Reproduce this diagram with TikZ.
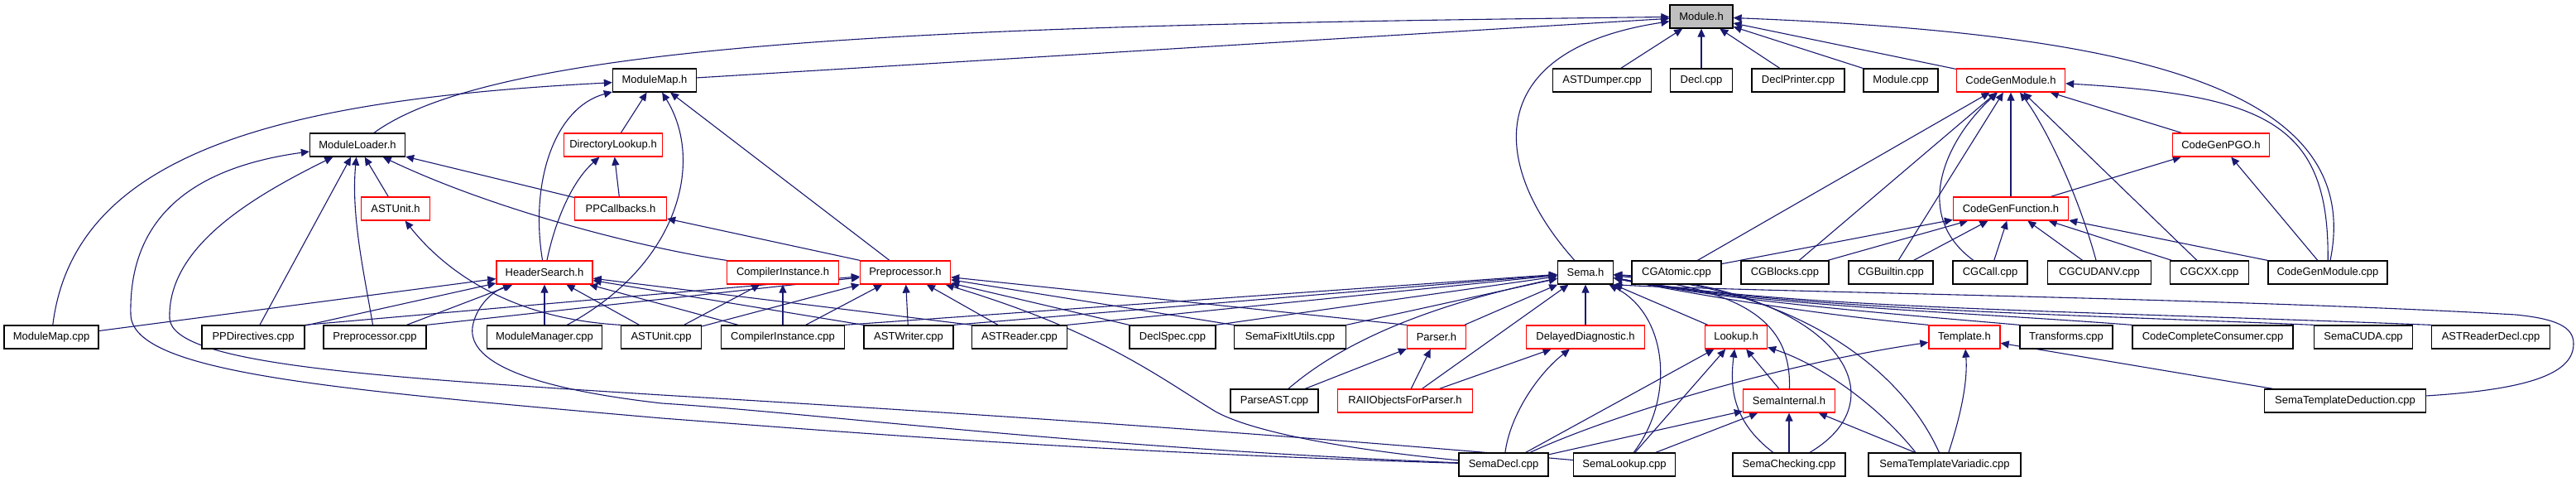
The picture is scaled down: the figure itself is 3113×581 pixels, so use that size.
\documentclass[tikz,border=0pt]{standalone}
\usepackage{fontspec}
\setmainfont{Liberation Sans}
\usetikzlibrary{arrows.meta}
\definecolor{mb}{HTML}{191970}
\definecolor{gfill}{HTML}{BFBFBF}
\definecolor{rd}{HTML}{FF0000}
\pgfdeclarelayer{edges}
\pgfsetlayers{edges,main}
\begin{document}
\begin{tikzpicture}[x=1pt,y=-1pt,
  box/.style={draw=black, line width=1.3pt, fill=white, minimum height=28pt, inner sep=0pt, font=\fontsize{13}{15}\selectfont},
  rbox/.style={box, draw=rd},
  e/.style={draw=mb, line width=1.1pt, -{Triangle[length=10pt,width=9pt]}}]
\useasboundingbox (0,0) rectangle (3113,581);
% row 1
\node[box,fill=gfill,minimum width=76pt] (M) at (2056,20) {Module.h};
% row 2
\node[box,minimum width=101pt] (MMh) at (791,97) {ModuleMap.h};
\node[box,minimum width=119pt] (ASTD) at (1936,97) {ASTDumper.cpp};
\node[box,minimum width=75pt] (Dcpp) at (2056,97) {Decl.cpp};
\node[box,minimum width=112pt] (DP) at (2173,97) {DeclPrinter.cpp};
\node[box,minimum width=90pt] (Mcpp) at (2297,97) {Module.cpp};
\node[rbox,minimum width=131pt] (CGMh) at (2430,97) {CodeGenModule.h};
% row 3
\node[box,minimum width=115pt] (MLh) at (432,175) {ModuleLoader.h};
\node[rbox,minimum width=119pt] (DLh) at (741,175) {DirectoryLookup.h};
\node[rbox,minimum width=117pt] (PGO) at (2684,175) {CodeGenPGO.h};
% row 4
\node[rbox,minimum width=83pt] (AUh) at (478,252) {ASTUnit.h};
\node[rbox,minimum width=111pt] (PPC) at (750,252) {PPCallbacks.h};
\node[rbox,minimum width=139pt] (CGF) at (2430,252) {CodeGenFunction.h};
% row 5
\node[rbox,minimum width=116pt] (HS) at (658,329) {HeaderSearch.h};
\node[rbox,minimum width=135pt] (CIh) at (946,329) {CompilerInstance.h};
\node[rbox,minimum width=109pt] (PPh) at (1094,329) {Preprocessor.h};
\node[box,minimum width=67pt] (Sema) at (1916,329) {Sema.h};
\node[box,minimum width=108pt] (CGAt) at (2026,329) {CGAtomic.cpp};
\node[box,minimum width=106pt] (CGBl) at (2157,329) {CGBlocks.cpp};
\node[box,minimum width=102pt] (CGBu) at (2285,329) {CGBuiltin.cpp};
\node[box,minimum width=90pt] (CGCa) at (2405,329) {CGCall.cpp};
\node[box,minimum width=125pt] (CGCU) at (2537,329) {CGCUDANV.cpp};
\node[box,minimum width=95pt] (CGCX) at (2670,329) {CGCXX.cpp};
\node[box,minimum width=144pt] (CGMcpp) at (2813,329) {CodeGenModule.cpp};
% row 6
\node[box,minimum width=114pt] (MMcpp) at (62,407) {ModuleMap.cpp};
\node[box,minimum width=124pt] (PPD) at (306,407) {PPDirectives.cpp};
\node[box,minimum width=124pt] (PPcpp) at (453,407) {Preprocessor.cpp};
\node[box,minimum width=139pt] (MMgr) at (658,407) {ModuleManager.cpp};
\node[box,minimum width=97pt] (AUcpp) at (799,407) {ASTUnit.cpp};
\node[box,minimum width=149pt] (CIcpp) at (946,407) {CompilerInstance.cpp};
\node[box,minimum width=108pt] (ASTW) at (1098,407) {ASTWriter.cpp};
\node[box,minimum width=115pt] (ASTR) at (1232,407) {ASTReader.cpp};
\node[box,minimum width=104pt] (DS) at (1417,407) {DeclSpec.cpp};
\node[box,minimum width=135pt] (SFI) at (1559,407) {SemaFixItUtils.cpp};
\node[rbox,minimum width=71pt] (Ph) at (1736,407) {Parser.h};
\node[rbox,minimum width=143pt] (DD) at (1916,407) {DelayedDiagnostic.h};
\node[rbox,minimum width=75pt] (Lh) at (2098,407) {Lookup.h};
\node[rbox,minimum width=86pt] (Th) at (2374,407) {Template.h};
\node[box,minimum width=112pt] (Tr) at (2497,407) {Transforms.cpp};
\node[box,minimum width=194pt] (CCC) at (2674,407) {CodeCompleteConsumer.cpp};
\node[box,minimum width=119pt] (SCU) at (2856,407) {SemaCUDA.cpp};
\node[box,minimum width=143pt] (ARD) at (3010,407) {ASTReaderDecl.cpp};
% row 7
\node[box,minimum width=106pt] (PAST) at (1540,484) {ParseAST.cpp};
\node[rbox,minimum width=163pt] (RAII) at (1698,484) {RAIIObjectsForParser.h};
\node[rbox,minimum width=111pt] (SI) at (2162,484) {SemaInternal.h};
\node[box,minimum width=195pt] (STD) at (2834,484) {SemaTemplateDeduction.cpp};
% row 8
\node[box,minimum width=108pt] (SD) at (1817,561) {SemaDecl.cpp};
\node[box,minimum width=123pt] (SL) at (1963,561) {SemaLookup.cpp};
\node[box,minimum width=136pt] (SC) at (2162,561) {SemaChecking.cpp};
\node[box,minimum width=184pt] (STV) at (2350,561) {SemaTemplateVariadic.cpp};

\begin{pgfonlayer}{edges}
\fill[white] (0,0) rectangle (3113,581);
% ---- edges into Module.h
\draw[e] (MMh) -- (M);
\draw[e] (MLh) .. controls (610,45) and (1200,30) .. (M);
\draw[e] (Sema) .. controls (1800,200) and (1790,60) .. (M);
\draw[e] (ASTD) -- (M);
\draw[e] (Dcpp) -- (M);
\draw[e] (DP) -- (M);
\draw[e] (Mcpp) -- (M);
\draw[e] (CGMh) -- (M);
\draw[e] (CGMcpp) .. controls (2860,100) and (2560,40) .. (M);
% ---- CodeGen
\draw[e] (CGMcpp) .. controls (2815,150) and (2740,115) .. (CGMh);
\draw[e] (CGF) -- (CGMh);
\draw[e] (PGO) -- (CGMh);
\draw[e] (CGAt) -- (CGMh);
\draw[e] (CGBl) -- (CGMh);
\draw[e] (CGBu) -- (CGMh);
\draw[e] (CGCa) .. controls (2310,260) and (2350,170) .. (CGMh);
\draw[e] (CGCU) .. controls (2510,230) and (2470,150) .. (CGMh);
\draw[e] (CGCX) -- (CGMh);
\draw[e] (CGAt) -- (CGF);
\draw[e] (CGBl) -- (CGF);
\draw[e] (CGBu) -- (CGF);
\draw[e] (CGCa) -- (CGF);
\draw[e] (CGCU) -- (CGF);
\draw[e] (CGCX) -- (CGF);
\draw[e] (CGMcpp) -- (CGF);
\draw[e] (CGF) -- (PGO);
\draw[e] (CGMcpp) -- (PGO);
% ---- ModuleMap.h
\draw[e] (MMcpp) .. controls (90,180) and (350,120) .. (MMh);
\draw[e] (HS) .. controls (640,220) and (670,130) .. (MMh);
\draw[e] (DLh) -- (MMh);
\draw[e] (MMgr) .. controls (820,320) and (852,195) .. (MMh);
\draw[e] (PPh) -- (MMh);
% ---- ModuleLoader.h
\draw[e] (SD) .. controls (1300,545) and (1000,520) .. (800,505) .. controls (400,470) and (160,450) .. (158,380) .. controls (155,250) and (250,200) .. (MLh);
\draw[e] (SL) .. controls (1500,520) and (1100,495) .. (800,477) .. controls (450,455) and (210,440) .. (205,385) .. controls (202,300) and (300,240) .. (MLh);
\draw[e] (PPD) -- (MLh);
\draw[e] (PPcpp) .. controls (440,330) and (424,260) .. (MLh);
\draw[e] (AUh) -- (MLh);
\draw[e] (CIh.north west) .. controls (780,300) and (600,255) .. (MLh);
\draw[e] (PPC) -- (MLh);
% ---- DirectoryLookup.h, ASTUnit.h, PPCallbacks.h
\draw[e] (HS) .. controls (670,270) and (690,220) .. (DLh);
\draw[e] (PPC) -- (DLh);
\draw[e] (AUcpp.north west) .. controls (620,385) and (540,330) .. (AUh);
\draw[e] (PPh.north west) -- (PPC);
% ---- HeaderSearch.h
\draw[e] (MMcpp) -- (HS);
\draw[e] (PPD) -- (HS);
\draw[e] (PPcpp) -- (HS);
\draw[e] (MMgr) -- (HS);
\draw[e] (AUcpp) -- (HS);
\draw[e] (CIcpp) -- (HS);
\draw[e] (ASTW.north west) -- (HS);
\draw[e] (ASTR.north west) -- (HS);
\draw[e] (SD) .. controls (1300,540) and (1000,500) .. (800,487) .. controls (650,470) and (565,440) .. (571,395) .. controls (575,370) and (595,352) .. (HS);
% ---- CompilerInstance.h
\draw[e] (AUcpp) -- (CIh);
\draw[e] (CIcpp) -- (CIh);
% ---- Preprocessor.h
\draw[e] (PPD.north east) -- (PPh);
\draw[e] (PPcpp.north east) -- (PPh);
\draw[e] (AUcpp) -- (PPh);
\draw[e] (CIcpp) -- (PPh);
\draw[e] (ASTW) -- (PPh);
\draw[e] (ASTR) -- (PPh);
\draw[e] (DS.north west) -- (PPh);
\draw[e] (SFI.north west) -- (PPh);
\draw[e] (Ph.north west) -- (PPh);
\draw[e] (SD) .. controls (1650,545) and (1520,525) .. (1469,497) .. controls (1400,455) and (1330,400) .. (PPh);
% ---- Sema.h
\draw[e] (CIcpp.north east) -- (Sema);
\draw[e] (ASTW.north east) -- (Sema);
\draw[e] (ASTR.north east) -- (Sema);
\draw[e] (DS.north east) -- (Sema);
\draw[e] (SFI.north east) -- (Sema);
\draw[e] (Ph) -- (Sema);
\draw[e] (PAST) .. controls (1620,415) and (1720,370) .. (Sema);
\draw[e] (RAII) -- (Sema);
\draw[e] (DD) -- (Sema);
\draw[e] (SL) .. controls (2025,480) and (2015,380) .. (Sema);
\draw[e] (Lh) -- (Sema);
\draw[e] (SI) .. controls (2165,390) and (2110,350) .. (Sema);
\draw[e] (SC) .. controls (2300,480) and (2220,350) .. (Sema);
\draw[e] (STV) .. controls (2300,450) and (2180,350) .. (Sema);
\draw[e] (Th.north west) .. controls (2200,380) and (2070,360) .. (Sema);
\draw[e] (Tr.north west) .. controls (2300,380) and (2100,365) .. (Sema);
\draw[e] (CCC.north west) .. controls (2350,375) and (2130,370) .. (Sema);
\draw[e] (SCU.north west) .. controls (2450,378) and (2150,372) .. (Sema);
\draw[e] (ARD.north west) .. controls (2500,375) and (2150,372) .. (Sema);
\draw[e] (STD) .. controls (3060,470) and (3110,450) .. (3110,415) .. controls (3110,395) and (3090,385) .. (3040,380) .. controls (2700,360) and (2100,352) .. (Sema.south east);
% ---- Parser.h, DelayedDiagnostic.h
\draw[e] (PAST) -- (Ph);
\draw[e] (RAII) -- (Ph);
\draw[e] (RAII) -- (DD);
\draw[e] (SD) .. controls (1825,500) and (1860,450) .. (DD);
% ---- Lookup.h
\draw[e] (SD) -- (Lh);
\draw[e] (SL) -- (Lh);
\draw[e] (SC) .. controls (2095,510) and (2090,470) .. (Lh);
\draw[e] (SI) -- (Lh);
\draw[e] ([xshift=-35pt]STV.north) .. controls (2270,490) and (2200,440) .. (Lh);
% ---- SemaInternal.h
\draw[e] (SD) -- (SI);
\draw[e] (SL) -- (SI);
\draw[e] (SC) -- (SI);
\draw[e] (STV) -- (SI);
% ---- Template.h
\draw[e] (SD) .. controls (1950,500) and (2150,440) .. (Th);
\draw[e] (STV) .. controls (2370,500) and (2378,460) .. (Th);
\draw[e] (STD) -- (Th);
\end{pgfonlayer}
\end{tikzpicture}
\end{document}
